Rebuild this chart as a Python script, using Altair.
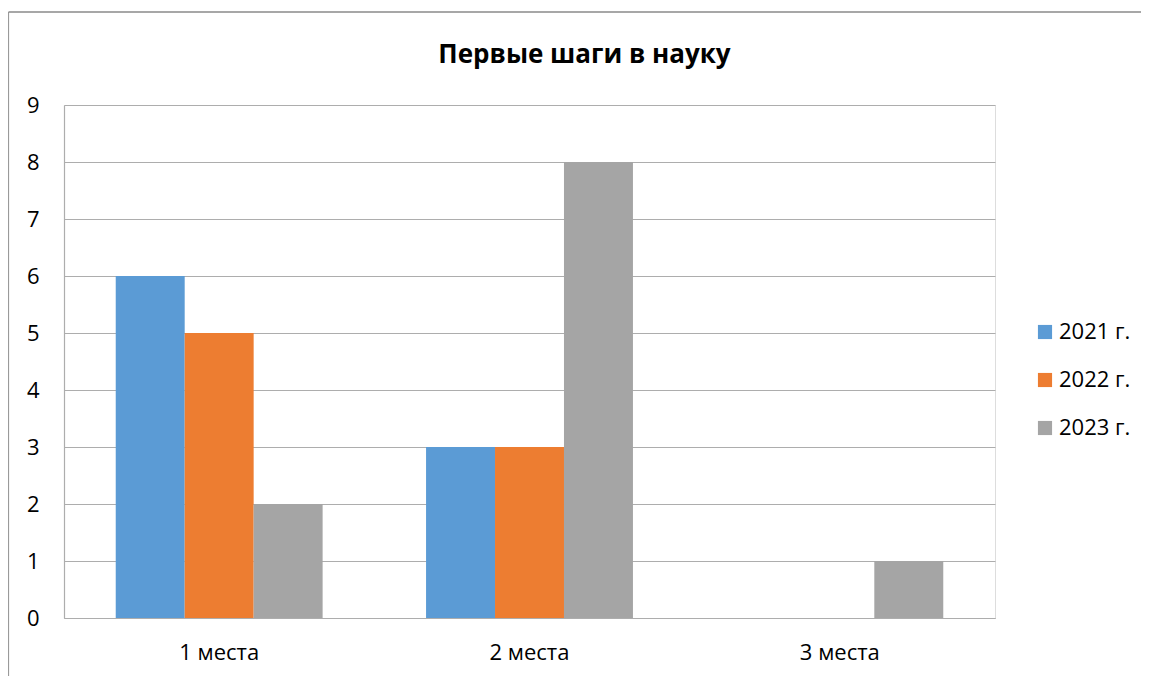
import altair as alt
import pandas as pd

categories = ["1 места", "2 места", "3 места"]
series = ["2021 г.", "2022 г.", "2023 г."]
values_2021 = [6, 3, 0]
values_2022 = [5, 3, 0]
values_2023 = [2, 8, 1]
colors = ["#5B9BD5", "#ED7D31", "#A5A5A5"]
y_ticks = [0, 1, 2, 3, 4, 5, 6, 7, 8, 9]

rows = []
for s, vals in zip(series, [values_2021, values_2022, values_2023]):
    for c, v in zip(categories, vals):
        rows.append({"cat": c, "series": s, "value": v})
df = pd.DataFrame(rows)

FONT = "Open Sans"
W, H = 931, 513

bars = alt.Chart(df).mark_bar(stroke=None).encode(
    x=alt.X("cat:N", sort=categories,
            scale=alt.Scale(paddingInner=0.3333, paddingOuter=0.1667),
            axis=alt.Axis(title=None, labelAngle=0, labelFont=FONT, labelFontSize=22,
                          labelColor="#000000", labelPadding=24, ticks=False,
                          domainColor="#ADADAD", domainWidth=1.2, grid=False)),
    xOffset=alt.XOffset("series:N", sort=series),
    y=alt.Y("value:Q", scale=alt.Scale(domain=[0, 9], nice=False),
            axis=alt.Axis(title=None, values=y_ticks, labelFont=FONT, labelFontSize=22,
                          labelColor="#000000", labelPadding=25, ticks=False,
                          domainColor="#ADADAD", domainWidth=1.2,
                          gridColor="#ADADAD", gridWidth=1.2)),
    color=alt.Color("series:N", sort=series,
                    scale=alt.Scale(domain=series, range=colors),
                    legend=alt.Legend(title=None, orient="none", legendX=970, legendY=216,
                                      symbolType="square", symbolSize=200,
                                      symbolStrokeWidth=0, labelFont=FONT,
                                      labelFontSize=22, labelColor="#000000",
                                      rowPadding=26, labelOffset=3, padding=0)),
)

border = pd.DataFrame({"a": [0]})
left_border = alt.Chart(border).mark_rule(color="#9A9A9A", strokeWidth=1.2).encode(
    x=alt.value(-55.5), y=alt.value(-93), y2=alt.value(H + 60))
top_border = alt.Chart(border).mark_rule(color="#8A8A8A", strokeWidth=1.5).encode(
    x=alt.value(-55.5), x2=alt.value(W + 146), y=alt.value(-93))

chart = alt.layer(bars, left_border, top_border).properties(
    width=W, height=H,
    padding={"left": 56, "top": 97, "right": 146, "bottom": 58},
    autosize=alt.AutoSizeParams(type="none"),
    title=alt.TitleParams("Первые шаги в науку", font=FONT, fontSize=26, fontWeight="bold",
                          color="#000000", anchor="middle", dx=55, offset=-57, frame="group"),
).configure_view(stroke=None).configure(background="white")

chart.save("out.html", embed_options={"renderer": "svg", "actions": False})
